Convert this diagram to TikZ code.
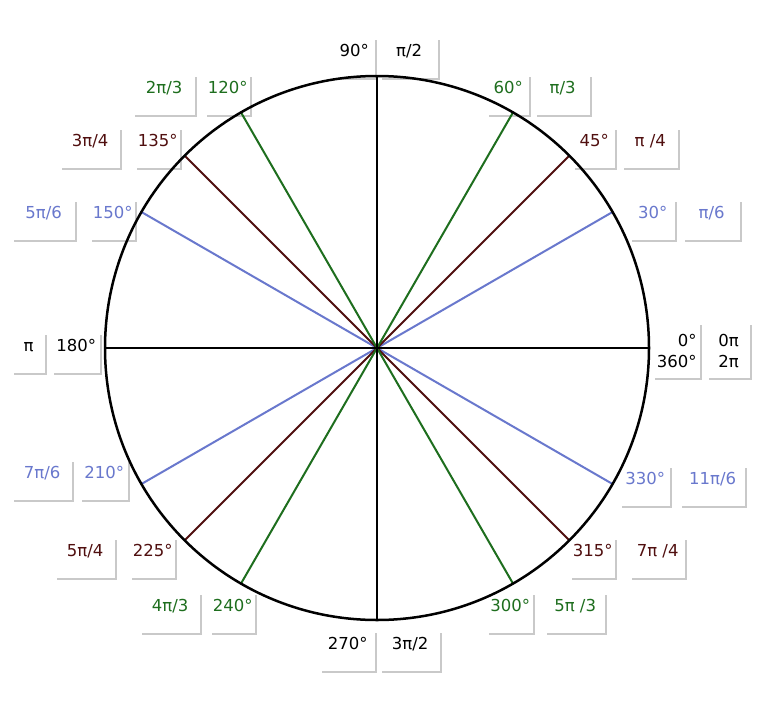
\documentclass[tikz,border=0pt]{standalone}
\usepackage{fontspec}
\setmainfont{DejaVu Sans}
\usetikzlibrary{shadows}
\definecolor{cg}{RGB}{30,110,30}
\definecolor{cb}{RGB}{80,15,15}
\definecolor{cv}{RGB}{105,120,205}
\tikzset{
 lbl/.style={anchor=north west, fill=white, inner xsep=2pt, inner ysep=5pt, text height=13pt, text depth=17pt,
   font=\fontsize{16.5}{18}\selectfont, drop shadow={shadow xshift=2pt, shadow yshift=-2pt, opacity=0.35, fill=black!60}},
 spoke/.style={line width=2pt},
}
\begin{document}
\begin{tikzpicture}[x=1pt,y=-1pt]
\useasboundingbox (0,0) rectangle (768,704);
\fill[white] (0,0) rectangle (768,704);
% labels
\node[lbl,minimum width=42] (a90) at (333,38) {90°};
\node[lbl,minimum width=58] (p90) at (380,38) {π/2};
\node[lbl,minimum width=42,text=cg] (a60) at (487,75) {60°};
\node[lbl,minimum width=55,text=cg] (p60) at (535,75) {π/3};
\node[lbl,minimum width=45,text=cg] (a120) at (205,75) {120°};
\node[lbl,minimum width=62,text=cg] (p120) at (133,75) {2π/3};
\node[lbl,minimum width=45,text=cb] (a135) at (135,128) {135°};
\node[lbl,minimum width=60,text=cb] (p135) at (60,128) {3π/4};
\node[lbl,minimum width=42,text=cb] (a45) at (573,128) {45°};
\node[lbl,minimum width=56,text=cb] (p45) at (622,128) {π /4};
\node[lbl,minimum width=45,text=cv] (a150) at (90,200) {150°};
\node[lbl,minimum width=63,text=cv] (p150) at (12,200) {5π/6};
\node[lbl,minimum width=45,text=cv] (a30) at (630,200) {30°};
\node[lbl,minimum width=57,text=cv] (p30) at (683,200) {π/6};
\node[lbl,minimum width=33] (p180) at (12,333) {π};
\node[lbl,minimum width=48] (a180) at (52,333) {180°};
\node[anchor=north west, fill=white, minimum width=47, minimum height=55, align=right, inner sep=3pt,
  font=\fontsize{16.5}{21}\selectfont, drop shadow={shadow xshift=2pt, shadow yshift=-2pt, opacity=0.35, fill=black!60}] (a0) at (653,323) {0°\\360°};
\node[anchor=north west, fill=white, minimum width=43, minimum height=55, align=center, inner sep=3pt,
  font=\fontsize{16.5}{21}\selectfont, drop shadow={shadow xshift=2pt, shadow yshift=-2pt, opacity=0.35, fill=black!60}] (p0) at (707,323) {0π\\2π};
\node[lbl,minimum width=48,text=cv] (a210) at (80,460) {210°};
\node[lbl,minimum width=60,text=cv] (p210) at (12,460) {7π/6};
\node[lbl,minimum width=50,text=cv] (a330) at (620,466) {330°};
\node[lbl,minimum width=65,text=cv] (p330) at (680,466) {11π/6};
\node[lbl,minimum width=45,text=cb] (a225) at (130,538) {225°};
\node[lbl,minimum width=60,text=cb] (p225) at (55,538) {5π/4};
\node[lbl,minimum width=45,text=cb] (a315) at (570,538) {315°};
\node[lbl,minimum width=55,text=cb] (p315) at (630,538) {7π /4};
\node[lbl,minimum width=45,text=cg] (a240) at (210,593) {240°};
\node[lbl,minimum width=60,text=cg] (p240) at (140,593) {4π/3};
\node[lbl,minimum width=46,text=cg] (a300) at (487,593) {300°};
\node[lbl,minimum width=60,text=cg] (p300) at (545,593) {5π /3};
\node[lbl,minimum width=55] (a270) at (320,631) {270°};
\node[lbl,minimum width=60] (p270) at (380,631) {3π/2};
% circle
\coordinate (o) at (377,348);
\foreach \ang/\col in {30/cv,150/cv,210/cv,330/cv,45/cb,135/cb,225/cb,315/cb,60/cg,120/cg,240/cg,300/cg,0/black,90/black,180/black,270/black}
  \draw[spoke,\col] (o) -- ++(\ang:{272pt and -272pt}) coordinate (e\ang);
\draw[line width=2.5pt] (o) circle[radius=272];
\end{tikzpicture}
\end{document}
